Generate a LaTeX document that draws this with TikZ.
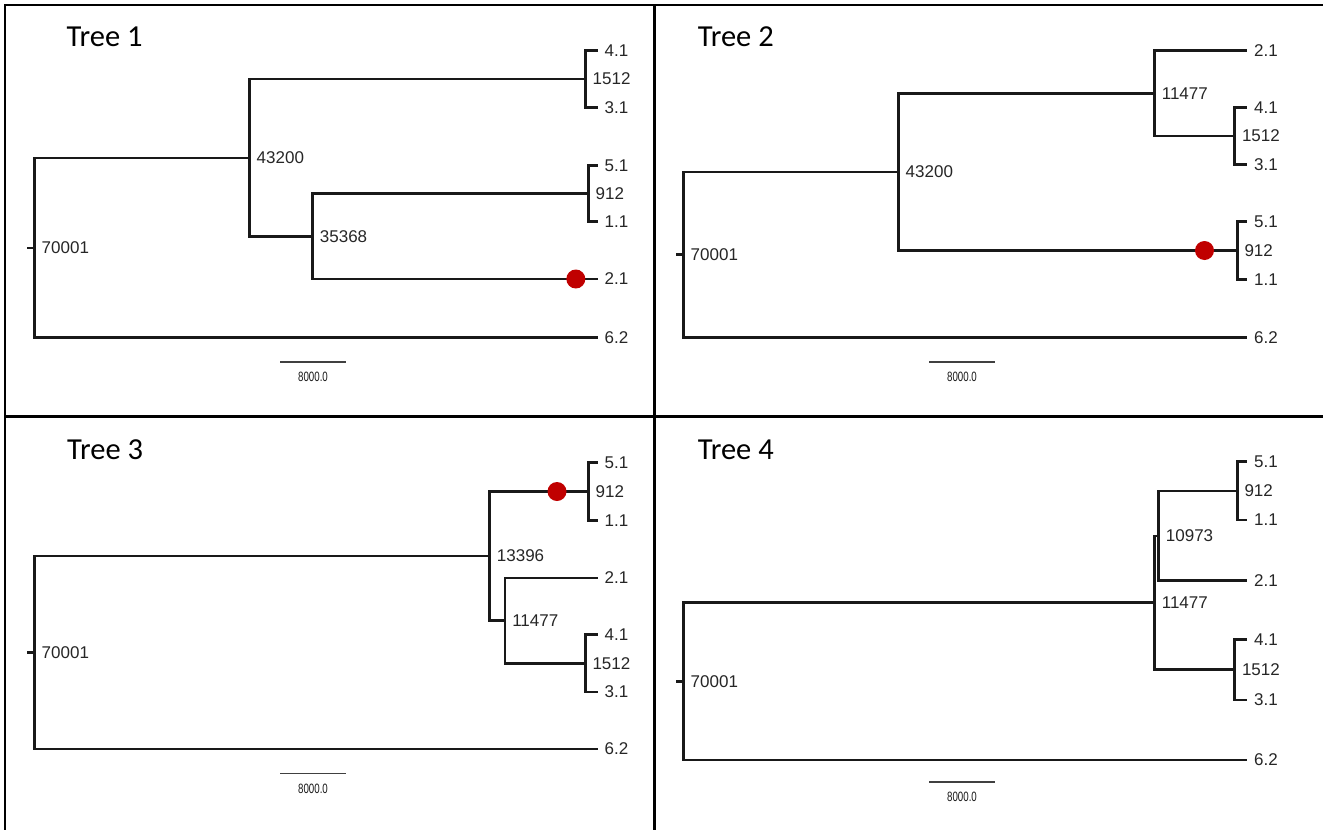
\documentclass[tikz,border=0pt]{standalone}
\usepackage{fontspec}
\setmainfont{Liberation Sans}
\newfontfamily\titlefont{Carlito}
\usepackage{xcolor}
\usetikzlibrary{positioning}
\definecolor{hitred}{RGB}{192,0,0}

\tikzset{
  branch/.style={line width=2.7pt, black!90},
  lbl/.style={anchor=west, inner sep=0pt, xshift=7pt, text=black!85,
    font=\fontsize{17}{19}\selectfont},
  treetitle/.style={anchor=base west, inner sep=0pt,
    font=\titlefont\fontsize{30.5}{32}\selectfont},
  scalebar/.style={line width=1.6pt, black!75},
  scalelbl/.style={inner sep=0pt, text=black!90, font=\fontsize{13.5}{14}\selectfont},
  hitdot/.style={circle, fill=hitred, inner sep=0pt, minimum size=19pt},
  frame/.style={line width=2.5pt, black}
}

\begin{document}
\begin{tikzpicture}[x=1pt, y=-1pt]
    \useasboundingbox (0,0) rectangle (1323,830);

    % Panel frame
    \draw[frame] (1323,5) -- (5,5) -- (5,830);
    \draw[frame] (5,416.7) -- (1323,416.7);
    \draw[frame] (654.5,5) -- (654.5,830);

    % Tree 1
    \node[treetitle] (t1title) at (66.5,46.7) {Tree 1};
    \coordinate (t1s) at (27,248);
    \coordinate (t1r) at (34.5,248);
    \coordinate (t1a) at (249.5,158);
    \coordinate (t1b) at (585.5,79);
    \coordinate (t1c) at (312.7,236.5);
    \coordinate (t1d) at (588.5,193.5);
    \coordinate (t1l41) at (597.5,50.7);
    \coordinate (t1l31) at (597.5,107.7);
    \coordinate (t1l51) at (597.5,165.5);
    \coordinate (t1l11) at (597.5,221.5);
    \coordinate (t1l21) at (597.5,279);
    \coordinate (t1l62) at (597.5,337.3);
    \draw[branch] (t1s) -- (t1r);
    \draw[branch] (t1r) |- (t1a) (t1r) |- (t1l62);
    \draw[branch] (t1a) |- (t1b) (t1a) |- (t1c);
    \draw[branch] (t1b) |- (t1l41) (t1b) |- (t1l31);
    \draw[branch] (t1c) |- (t1d) (t1c) |- (t1l21);
    \draw[branch] (t1d) |- (t1l51) (t1d) |- (t1l11);
    \node[hitdot] (t1dot) at (575.8,279) {};
    \foreach \n/\t in {r/70001, a/43200, b/1512, c/35368, d/912,
        l41/4.1, l31/3.1, l51/5.1, l11/1.1, l21/2.1, l62/6.2}
        \node[lbl] (t1\n lab) at (t1\n) {\t};
    \coordinate (t1sa) at (280,361.7);
    \coordinate (t1sb) at (346,361.7);
    \draw[scalebar] (t1sa) -- (t1sb);
    \node[scalelbl] (t1slab) at (313,377) {\scalebox{0.72}[1]{8000.0}};

    % Tree 2
    \node[treetitle] (t2title) at (697.6,46.7) {Tree 2};
    \coordinate (t2s) at (676,254.6);
    \coordinate (t2r) at (683.5,254.6);
    \coordinate (t2a) at (898.5,172);
    \coordinate (t2b) at (1154.6,93.3);
    \coordinate (t2c) at (1234.8,136);
    \coordinate (t2d) at (1237.3,250.5);
    \coordinate (t2l21) at (1247,50.7);
    \coordinate (t2l41) at (1247,107.5);
    \coordinate (t2l31) at (1247,164.5);
    \coordinate (t2l51) at (1247,221.7);
    \coordinate (t2l11) at (1247,279.3);
    \coordinate (t2l62) at (1247,337.3);
    \draw[branch] (t2s) -- (t2r);
    \draw[branch] (t2r) |- (t2a) (t2r) |- (t2l62);
    \draw[branch] (t2a) |- (t2b) (t2a) |- (t2d);
    \draw[branch] (t2b) |- (t2l21) (t2b) |- (t2c);
    \draw[branch] (t2c) |- (t2l41) (t2c) |- (t2l31);
    \draw[branch] (t2d) |- (t2l51) (t2d) |- (t2l11);
    \node[hitdot] (t2dot) at (1204.5,250.5) {};
    \foreach \n/\t in {r/70001, a/43200, b/11477, c/1512, d/912,
        l21/2.1, l41/4.1, l31/3.1, l51/5.1, l11/1.1, l62/6.2}
        \node[lbl] (t2\n lab) at (t2\n) {\t};
    \coordinate (t2sa) at (929,361.7);
    \coordinate (t2sb) at (995,361.7);
    \draw[scalebar] (t2sa) -- (t2sb);
    \node[scalelbl] (t2slab) at (962,377) {\scalebox{0.72}[1]{8000.0}};

    % Tree 3
    \node[treetitle] (t3title) at (67,459) {Tree 3};
    \coordinate (t3s) at (27,652.5);
    \coordinate (t3r) at (34.5,652.5);
    \coordinate (t3a) at (489.7,556);
    \coordinate (t3b) at (588.5,491.5);
    \coordinate (t3c) at (505.1,620.6);
    \coordinate (t3d) at (585.3,663.3);
    \coordinate (t3l51) at (597.5,462.5);
    \coordinate (t3l11) at (597.5,520.5);
    \coordinate (t3l21) at (597.5,578);
    \coordinate (t3l41) at (597.5,634.5);
    \coordinate (t3l31) at (597.5,692);
    \coordinate (t3l62) at (597.5,749);
    \draw[branch] (t3s) -- (t3r);
    \draw[branch] (t3r) |- (t3a) (t3r) |- (t3l62);
    \draw[branch] (t3a) |- (t3b) (t3a) |- (t3c);
    \draw[branch] (t3b) |- (t3l51) (t3b) |- (t3l11);
    \draw[branch] (t3c) |- (t3l21) (t3c) |- (t3d);
    \draw[branch] (t3d) |- (t3l41) (t3d) |- (t3l31);
    \node[hitdot] (t3dot) at (557,491.5) {};
    \foreach \n/\t in {r/70001, a/13396, b/912, c/11477, d/1512,
        l51/5.1, l11/1.1, l21/2.1, l41/4.1, l31/3.1, l62/6.2}
        \node[lbl] (t3\n lab) at (t3\n) {\t};
    \coordinate (t3sa) at (280,773.3);
    \coordinate (t3sb) at (346,773.3);
    \draw[scalebar] (t3sa) -- (t3sb);
    \node[scalelbl] (t3slab) at (313,789) {\scalebox{0.72}[1]{8000.0}};

    % Tree 4
    \node[treetitle] (t4title) at (697.6,459) {Tree 4};
    \coordinate (t4s) at (676,681.4);
    \coordinate (t4r) at (683.5,681.4);
    \coordinate (t4a) at (1154.6,602.8);
    \coordinate (t4b) at (1158.7,535.9);
    \coordinate (t4c) at (1237.3,491);
    \coordinate (t4d) at (1234.8,669.8);
    \coordinate (t4l51) at (1247,461.7);
    \coordinate (t4l11) at (1247,520);
    \coordinate (t4l21) at (1247,580.7);
    \coordinate (t4l41) at (1247,639.5);
    \coordinate (t4l31) at (1247,700);
    \coordinate (t4l62) at (1247,760);
    \draw[branch] (t4s) -- (t4r);
    \draw[branch] (t4r) |- (t4a) (t4r) |- (t4l62);
    \draw[branch] (t4a) |- (t4b) (t4a) |- (t4d);
    \draw[branch] (t4b) |- (t4c) (t4b) |- (t4l21);
    \draw[branch] (t4c) |- (t4l51) (t4c) |- (t4l11);
    \draw[branch] (t4d) |- (t4l41) (t4d) |- (t4l31);
    \foreach \n/\t in {r/70001, a/11477, b/10973, c/912, d/1512,
        l51/5.1, l11/1.1, l21/2.1, l41/4.1, l31/3.1, l62/6.2}
        \node[lbl] (t4\n lab) at (t4\n) {\t};
    \coordinate (t4sa) at (929,781.7);
    \coordinate (t4sb) at (995,781.7);
    \draw[scalebar] (t4sa) -- (t4sb);
    \node[scalelbl] (t4slab) at (962,797) {\scalebox{0.72}[1]{8000.0}};
\end{tikzpicture}
\end{document}
